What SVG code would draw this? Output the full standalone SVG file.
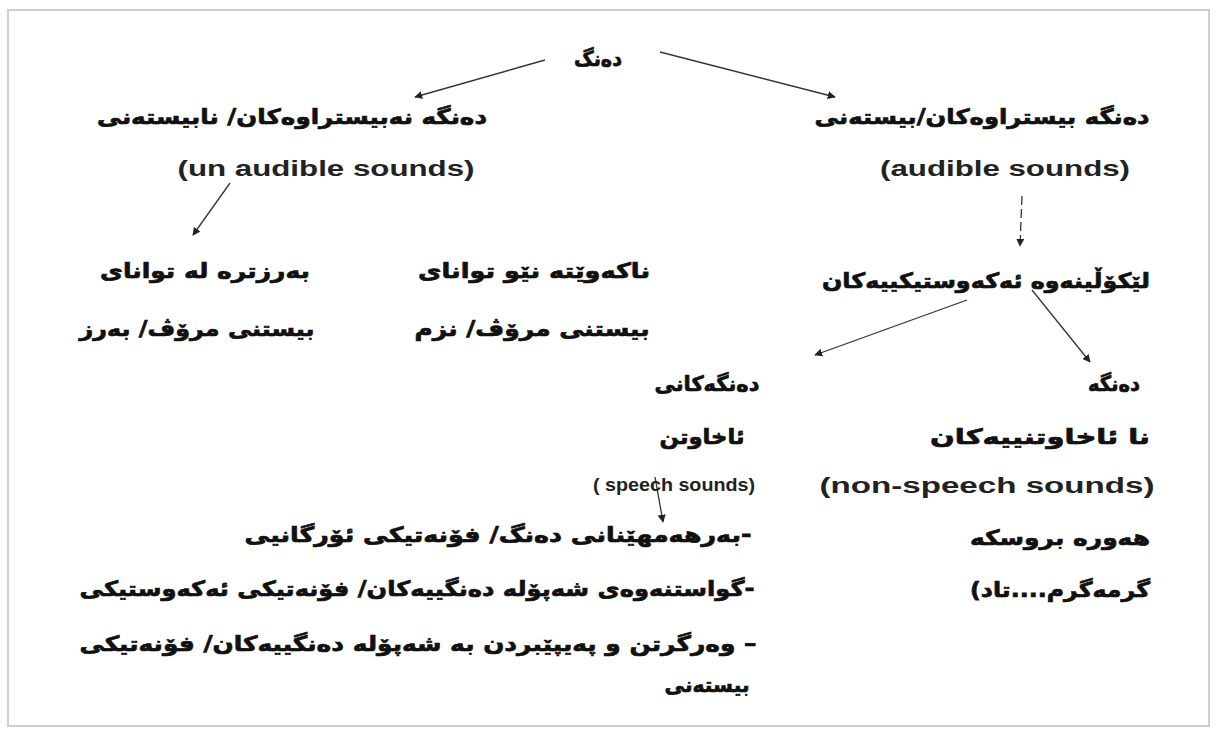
<svg xmlns="http://www.w3.org/2000/svg" width="1218" height="729" viewBox="0 0 1218 729">
<defs>
<marker id="ah" viewBox="0 0 10 10" refX="9" refY="5" markerWidth="8" markerHeight="8" orient="auto" markerUnits="userSpaceOnUse">
<path d="M0,0 L10,5 L0,10 z" fill="#222"/>
</marker>
<style>
.ar{font-family:"DejaVu Sans","Noto Sans",sans-serif;font-weight:bold;font-size:21px;fill:#111;stroke:#111;stroke-width:0.7;text-anchor:middle;direction:rtl}
.en{font-family:"Liberation Sans",Arial,sans-serif;font-weight:bold;font-size:22px;fill:#222;text-anchor:middle}
.sm{font-size:18px}
.c{stroke:#333;stroke-width:1.3;fill:none;marker-end:url(#ah)}
</style>
</defs>
<rect width="1218" height="729" fill="#fff"/>
<rect x="8" y="10" width="1201" height="716" fill="none" stroke="#cfcfcf" stroke-width="2"/>
<g id="connectors">
<line class="c" x1="545" y1="60" x2="415" y2="97"/>
<line class="c" x1="660" y1="52" x2="835" y2="97"/>
<line class="c" x1="230" y1="183" x2="193" y2="235"/>
<line class="c" x1="1022" y1="196" x2="1020" y2="246" stroke-dasharray="9 4"/>
<line class="c" x1="967" y1="300" x2="815" y2="355"/>
<line class="c" x1="1032" y1="290" x2="1090" y2="362"/>
<line class="c" x1="655" y1="477" x2="663" y2="522"/>
</g>
<g id="n-root"><text class="ar" x="598" y="66" textLength="48" lengthAdjust="spacingAndGlyphs">دەنگ</text></g>
<g id="n-inaudible">
<text class="ar" x="292" y="124" textLength="390" lengthAdjust="spacingAndGlyphs">دەنگە نەبیستراوەکان/ نابیستەنی</text>
<text class="en" x="326" y="176" textLength="297" lengthAdjust="spacingAndGlyphs">(un audible sounds)</text>
</g>
<g id="n-audible">
<text class="ar" x="982" y="124" textLength="335" lengthAdjust="spacingAndGlyphs">دەنگە بیستراوەکان/بیستەنی</text>
<text class="en" x="1005" y="176" textLength="250" lengthAdjust="spacingAndGlyphs">(audible sounds)</text>
</g>
<g id="n-high">
<text class="ar" x="205" y="278" textLength="210" lengthAdjust="spacingAndGlyphs">بەرزترە لە توانای</text>
<text class="ar" x="197" y="336" textLength="235" lengthAdjust="spacingAndGlyphs">بیستنی مرۆڤ/ بەرز</text>
</g>
<g id="n-low">
<text class="ar" x="534" y="278" textLength="232" lengthAdjust="spacingAndGlyphs">ناکەوێتە نێو توانای</text>
<text class="ar" x="532" y="336" textLength="235" lengthAdjust="spacingAndGlyphs">بیستنی مرۆڤ/ نزم</text>
</g>
<g id="n-acoustic"><text class="ar" x="986" y="288" textLength="328" lengthAdjust="spacingAndGlyphs">لێکۆڵینەوە ئەکەوستیکییەکان</text></g>
<g id="n-speech">
<text class="ar" x="707" y="391" textLength="105" lengthAdjust="spacingAndGlyphs">دەنگەکانی</text>
<text class="ar" x="702" y="444" textLength="85" lengthAdjust="spacingAndGlyphs">ئاخاوتن</text>
<text class="en sm" x="674" y="491" textLength="162" lengthAdjust="spacingAndGlyphs">( speech sounds)</text>
</g>
<g id="n-nonspeech">
<text class="ar" x="1114" y="391" textLength="52" lengthAdjust="spacingAndGlyphs">دەنگە</text>
<text class="ar" x="1040" y="444" textLength="220" lengthAdjust="spacingAndGlyphs">نا ئاخاوتنییەکان</text>
<text class="en" x="987" y="493" textLength="335" lengthAdjust="spacingAndGlyphs">(non-speech sounds)</text>
</g>
<g id="n-phonetics">
<text class="ar" x="498" y="542" textLength="507" lengthAdjust="spacingAndGlyphs">-بەرهەمهێنانی  دەنگ/ فۆنەتیکی ئۆرگانیی</text>
<text class="ar" x="417" y="596" textLength="675" lengthAdjust="spacingAndGlyphs">-گواستنەوەی شەپۆلە دەنگییەکان/ فۆنەتیکی ئەکەوستیکی</text>
<text class="ar" x="418" y="651" textLength="677" lengthAdjust="spacingAndGlyphs">–  وەرگرتن و پەیپێبردن بە شەپۆلە دەنگییەکان/ فۆنەتیکی</text>
<text class="ar" x="707" y="692" textLength="85" lengthAdjust="spacingAndGlyphs">بیستەنی</text>
</g>
<g id="n-examples">
<text class="ar" x="1060" y="545" textLength="180" lengthAdjust="spacingAndGlyphs">هەورە بروسکە</text>
<text class="ar" x="1060" y="597" textLength="180" lengthAdjust="spacingAndGlyphs">گرمەگرم....تاد)</text>
</g>
</svg>
